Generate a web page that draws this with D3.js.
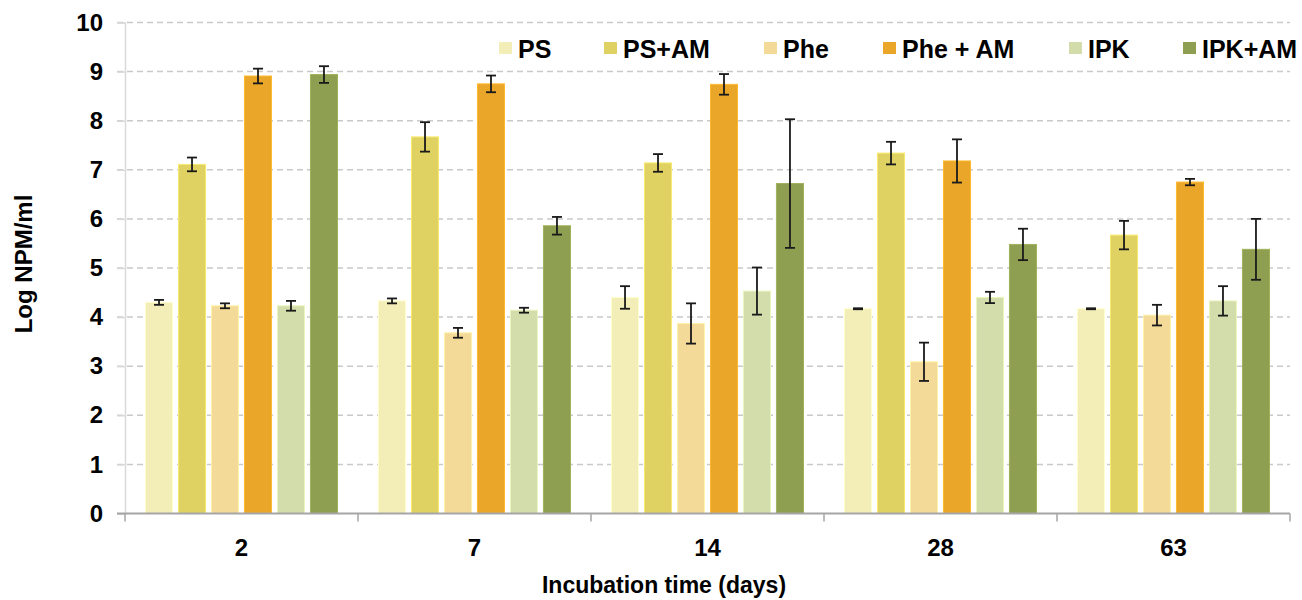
<!DOCTYPE html>
<html>
<head>
<meta charset="utf-8">
<script src="https://cdn.jsdelivr.net/npm/d3@7"></script>
<style>
  body { margin: 0; background: #fff; }
  text { font-family: "Liberation Sans", Arial, sans-serif; font-weight: bold; fill: #000; }
</style>
</head>
<body>
<script>
// Values
var days = ["2", "7", "14", "28", "63"];
var seriesNames = ["PS", "PS+AM", "Phe", "Phe + AM", "IPK", "IPK+AM"];
var seriesColors = ["#f3edb8", "#e0d262", "#f4da98", "#e9a628", "#d3dcab", "#8f9f52"];

var psMean     = [4.30, 4.33, 4.40, 4.17, 4.17];
var psAmMean   = [7.11, 7.67, 7.14, 7.34, 5.67];
var pheMean    = [4.23, 3.68, 3.87, 3.09, 4.04];
var pheAmMean  = [8.91, 8.75, 8.74, 7.18, 6.75];
var ipkMean    = [4.23, 4.14, 4.53, 4.40, 4.33];
var ipkAmMean  = [8.94, 5.86, 6.72, 5.48, 5.38];

var psErr    = [0.05, 0.05, 0.23, 0.01, 0.01];
var psAmErr  = [0.14, 0.30, 0.18, 0.23, 0.29];
var pheErr   = [0.05, 0.10, 0.41, 0.39, 0.21];
var pheAmErr = [0.15, 0.17, 0.21, 0.44, 0.065];
var ipkErr   = [0.10, 0.05, 0.48, 0.115, 0.30];
var ipkAmErr = [0.17, 0.18, 1.31, 0.32, 0.62];

var yTicks = [0, 1, 2, 3, 4, 5, 6, 7, 8, 9, 10];

var means = [psMean, psAmMean, pheMean, pheAmMean, ipkMean, ipkAmMean];
var errs = [psErr, psAmErr, pheErr, pheAmErr, ipkErr, ipkAmErr];

var W = 1302, H = 600;
var plotLeft = 125, plotRight = 1290, plotTop = 22.5, plotBottom = 513.5;

var svg = d3.select("body").append("svg")
            .attr("width", W)
            .attr("height", H);

var x0 = d3.scaleBand().domain(days).range([plotLeft, plotRight]);
var x1 = d3.scaleBand().domain(seriesNames)
           .range([20.5, x0.bandwidth() - 20.5])
           .paddingInner(0.18);
var y = d3.scaleLinear().domain([0, 10]).range([plotBottom, plotTop]);

// Gridlines
svg.append("g").selectAll("line")
   .data(yTicks.filter(function(d) { return d > 0; }))
   .enter().append("line")
   .attr("x1", plotLeft - 8).attr("x2", plotRight)
   .attr("y1", function(d) { return y(d); })
   .attr("y2", function(d) { return y(d); })
   .attr("stroke", "#c9c9c9")
   .attr("stroke-width", 1.5)
   .attr("stroke-dasharray", "6,4");

// y axis
var yAxis = svg.append("g")
   .attr("transform", "translate(" + plotLeft + ",0)")
   .call(d3.axisLeft(y).tickValues(yTicks).tickSize(8).tickPadding(14));
yAxis.attr("font-family", null).attr("font-size", null);
yAxis.select(".domain").attr("stroke", "#d9d9d9").attr("stroke-width", 1.5);
yAxis.selectAll(".tick line").attr("stroke", "#d9d9d9").attr("stroke-width", 1.5);
yAxis.selectAll(".tick text").attr("font-size", 24).attr("fill", "#000");

// Bars
var groups = svg.append("g").selectAll("g")
   .data(days)
   .enter().append("g")
   .attr("transform", function(d) { return "translate(" + x0(d) + ",0)"; });

groups.each(function(day, di) {
  var g = d3.select(this);
  seriesNames.forEach(function(s, si) {
    var v = means[si][di], e = errs[si][di];
    var cx = x1(s) + x1.bandwidth() / 2;
    g.append("rect")
     .attr("x", x1(s))
     .attr("y", y(v))
     .attr("width", x1.bandwidth())
     .attr("height", y(0) - y(v))
     .attr("fill", seriesColors[si])
     .attr("stroke", d3.color(seriesColors[si]).brighter(0.3))
     .attr("stroke-width", 1);
    // error bar
    g.append("line")
     .attr("x1", cx).attr("x2", cx)
     .attr("y1", y(v + e)).attr("y2", y(v - e))
     .attr("stroke", "#1a1a1a").attr("stroke-width", 1.8);
    [v + e, v - e].forEach(function(t) {
      g.append("line")
       .attr("x1", cx - 5).attr("x2", cx + 5)
       .attr("y1", y(t)).attr("y2", y(t))
       .attr("stroke", "#1a1a1a").attr("stroke-width", 1.8);
    });
  });
});

// x axis
var xAxisG = svg.append("g").attr("transform", "translate(0," + plotBottom + ")");
xAxisG.append("line")
      .attr("x1", plotLeft - 8).attr("x2", plotRight)
      .attr("stroke", "#a6a6a6").attr("stroke-width", 2);
var tickXs = days.map(function(d) { return x0(d); }).concat([plotRight]);
xAxisG.selectAll("line.tk").data(tickXs).enter().append("line")
      .attr("class", "tk")
      .attr("x1", function(d) { return d; }).attr("x2", function(d) { return d; })
      .attr("y1", 0).attr("y2", 8)
      .attr("stroke", "#a6a6a6").attr("stroke-width", 1.5);
xAxisG.selectAll("text").data(days).enter().append("text")
      .attr("x", function(d) { return x0(d) + x0.bandwidth() / 2; })
      .attr("y", 42)
      .attr("text-anchor", "middle")
      .attr("font-size", 24)
      .text(function(d) { return d; });

// Axis titles
svg.append("text")
   .attr("transform", "translate(32,264) rotate(-90)")
   .attr("text-anchor", "middle")
   .attr("font-size", 24)
   .text("Log NPM/ml");
svg.append("text")
   .attr("x", 664)
   .attr("y", 593)
   .attr("text-anchor", "middle")
   .attr("font-size", 23)
   .text("Incubation time (days)");

// Legend
var legendX = [499, 604, 764, 883, 1069, 1183];
var legend = svg.append("g").selectAll("g")
   .data(seriesNames)
   .enter().append("g")
   .attr("transform", function(d, i) { return "translate(" + legendX[i] + ",42)"; });
legend.append("rect")
   .attr("width", 13).attr("height", 12)
   .attr("fill", function(d, i) { return seriesColors[i]; });
legend.append("text")
   .attr("x", 19).attr("y", 16)
   .attr("font-size", 25)
   .text(function(d) { return d; });
</script>
</body>
</html>
